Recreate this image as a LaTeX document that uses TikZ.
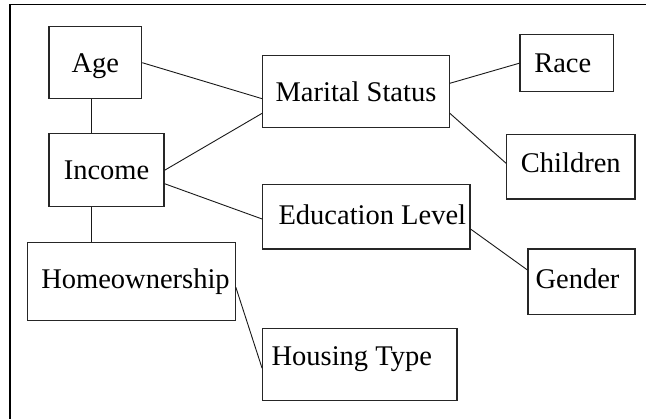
\documentclass[tikz,border=0pt]{standalone}
\usepackage{fontspec}
\setmainfont{Liberation Serif}
\begin{document}
\begin{tikzpicture}[x=1pt, y=-1pt,
    box/.style={draw=black!85, line width=1.1pt, inner sep=2pt,
      font=\fontsize{28.5}{30}\selectfont, text height=20pt, text depth=1.2pt},
    link/.style={draw=black!90, line width=0.9pt}]
  \useasboundingbox (0,0) rectangle (646,419);
  \fill[white] (0,0) rectangle (646,419);
  \draw[line width=1.3pt] (10,425) -- (10,4.5) -- (652,4.5);
  % left column
  \node[box, minimum width=92.7pt, minimum height=72pt] (age) at (95.3,62.7) {Age};
  \node[box, minimum width=115pt, minimum height=72.7pt] (income) at (106.5,170.3) {Income};
  \node[box, minimum width=207.6pt, minimum height=78.4pt, text depth=6.2pt]
    (home) at (131.5,281.5) {\hspace*{8pt}Homeownership};
  % middle column
  \node[box, minimum width=186.6pt, minimum height=71.7pt] (marital) at (356,91.8) {Marital Status};
  \node[box, minimum width=207.3pt, minimum height=64.7pt, text depth=4.6pt]
    (educ) at (366.3,216.7) {\hspace*{12pt}Education Level};
  \node[box, minimum width=194.3pt, minimum height=71.7pt, text depth=19.4pt]
    (housing) at (359.8,364.8) {Housing Type\hspace*{16pt}};
  % right column
  \node[box, minimum width=93.7pt, minimum height=57pt] (race) at (566.8,63.2) {Race\hspace*{8pt}};
  \node[box, minimum width=128.3pt, minimum height=64.7pt, text depth=8pt]
    (children) at (570.8,166.7) {Children};
  \node[box, minimum width=107pt, minimum height=65.3pt, text depth=7.2pt]
    (gender) at (581.5,281.7) {Gender\hspace*{8pt}};
  % links
  \draw[link] ([xshift=-4pt]age.south) coordinate (stem) -- (stem |- income.north);
  \draw[link] (stem |- income.south) -- (stem |- home.north);
  \draw[link] (age.east) -- ([yshift=-6.9pt]marital.west);
  \draw[link] (income.east) -- ([yshift=-21.5pt]marital.west);
  \draw[link] ([yshift=-13.4pt]income.east) -- ([yshift=-2.3pt]educ.west);
  \draw[link] ([yshift=8.5pt]marital.east) -- (race.west);
  \draw[link] ([yshift=-21.5pt]marital.east) -- ([yshift=3.4pt]children.west);
  \draw[link] ([yshift=-12.3pt]educ.east) -- ([yshift=11.7pt]gender.west);
  \draw[link] ([yshift=-5.8pt]home.east) -- ([yshift=-3.5pt]housing.west);
\end{tikzpicture}
\end{document}
